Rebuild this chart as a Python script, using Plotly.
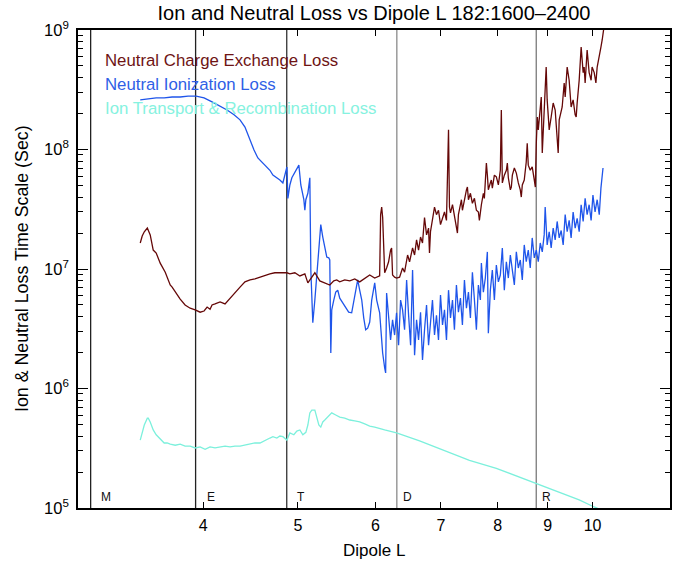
import math
import plotly.graph_objects as go

# ---------------- data ----------------
cx_L = [3.45, 3.466, 3.483, 3.508, 3.532, 3.557, 3.582, 3.599, 3.616, 3.659, 3.676, 3.702, 3.719, 3.746,
        3.79, 3.834, 3.861, 3.88, 3.926, 3.972, 4.009, 4.038, 4.066, 4.085, 4.114, 4.163, 4.212, 4.262,
        4.312, 4.363, 4.414, 4.467, 4.519, 4.573, 4.627, 4.681, 4.736, 4.792, 4.849, 4.872, 4.906, 4.964,
        5.023, 5.082, 5.118, 5.142, 5.178, 5.203, 5.264, 5.326, 5.389, 5.44, 5.478, 5.517, 5.582, 5.649,
        5.715, 5.782, 5.851, 5.92, 5.99, 6.032, 6.06, 6.074, 6.089, 6.103, 6.132, 6.16, 6.189, 6.218,
        6.233, 6.247, 6.277, 6.306, 6.351, 6.396, 6.426, 6.472, 6.502, 6.548, 6.579, 6.61, 6.641, 6.672,
        6.703, 6.735, 6.767, 6.799, 6.814, 6.83, 6.862, 6.895, 6.927, 6.96, 6.993, 7.026, 7.059, 7.092,
        7.126, 7.142, 7.159, 7.193, 7.226, 7.26, 7.277, 7.294, 7.329, 7.346, 7.363, 7.398, 7.433, 7.45,
        7.468, 7.503, 7.538, 7.574, 7.609, 7.645, 7.663, 7.699, 7.735, 7.753, 7.79, 7.808, 7.826, 7.863,
        7.881, 7.9, 7.938, 7.975, 8.013, 8.05, 8.069, 8.088, 8.126, 8.165, 8.184, 8.203, 8.242, 8.261,
        8.281, 8.32, 8.359, 8.398, 8.437, 8.457, 8.477, 8.516, 8.556, 8.576, 8.597, 8.637, 8.677, 8.72,
        8.741, 8.761, 8.782, 8.802, 8.843, 8.864, 8.885, 8.925, 8.967, 8.988, 9.031, 9.073, 9.116, 9.159,
        9.202, 9.224, 9.246, 9.289, 9.311, 9.355, 9.377, 9.421, 9.465, 9.509, 9.554, 9.6, 9.623, 9.645,
        9.691, 9.736, 9.782, 9.805, 9.828, 9.874, 9.921, 9.967, 9.99, 10.04, 10.08, 10.11, 10.16, 10.2,
        10.23, 10.28]
cx_val = [1.65e7, 1.89e7, 2.05e7, 2.2e7, 1.93e7, 1.44e7, 1.36e7, 1.24e7, 1.12e7, 9.4e6, 8.4e6, 7.35e6, 7.05e6, 6.4e6,
          5.6e6, 5.0e6, 4.8e6, 4.7e6, 4.55e6, 4.35e6, 4.45e6, 4.8e6, 4.6e6, 5.0e6, 5.1e6, 5.3e6, 5.1e6, 5.7e6,
          6.4e6, 7.05e6, 7.8e6, 8.1e6, 8.25e6, 8.55e6, 8.75e6, 9.1e6, 9.3e6, 9.3e6, 9.4e6, 9.3e6, 9.1e6, 9.3e6,
          8.75e6, 9.1e6, 7.65e6, 8.1e6, 8.9e6, 9.3e6, 7.95e6, 7.65e6, 7.35e6, 7.95e6, 8.1e6, 7.8e6, 8.1e6, 7.95e6,
          8.25e6, 7.8e6, 8.4e6, 8.9e6, 8.4e6, 8.55e6, 8.75e6, 2.85e7, 3.3e7, 2.7e7, 9.3e6, 1.02e7, 1.15e7, 1.44e7,
          1.5e7, 8.9e6, 8.55e6, 8.4e6, 8.55e6, 1.02e7, 9.4e6, 1.31e7, 1.15e7, 1.5e7, 1.31e7, 1.75e7, 1.44e7, 1.85e7,
          1.65e7, 2.7e7, 1.93e7, 2.2e7, 1.36e7, 2.05e7, 2.55e7, 3.3e7, 2.85e7, 3.1e7, 2.35e7, 2.7e7, 3.0e7, 2.55e7,
          1.46e8, 3.3e7, 2.95e7, 3.45e7, 2.85e7, 2.2e7, 2.0e7, 2.85e7, 3.55e7, 3.8e7, 3.1e7, 3.9e7, 4.6e7, 4.85e7,
          3.8e7, 4.3e7, 3.55e7, 3.9e7, 3.1e7, 3.0e7, 2.55e7, 3.45e7, 4.3e7, 3.9e7, 7.7e7, 6.1e7, 4.6e7, 5.25e7,
          5.55e7, 4.75e7, 6.1e7, 5.9e7, 5.05e7, 6.7e7, 2.14e8, 5.25e7, 6.1e7, 6.7e7, 7.7e7, 5.8e7, 4.6e7, 4.85e7,
          6.1e7, 7.0e7, 6.35e7, 5.25e7, 4.6e7, 4.0e7, 5.05e7, 5.55e7, 7.85e7, 1.13e8, 7.4e7, 6.7e7, 7.15e7, 5.55e7,
          4.85e7, 1.13e8, 1.87e8, 1.46e8, 2.27e8, 2.75e8, 9.35e7, 2.14e8, 4.9e8, 2.6e8, 1.46e8, 1.87e8, 2.45e8, 2.14e8,
          1.2e8, 9.35e7, 1.77e8, 2.14e8, 2.27e8, 3.6e8, 2.75e8, 4.9e8, 3.8e8, 2.27e8, 2.6e8, 1.95e8, 1.87e8, 2.45e8,
          3.8e8, 7.2e8, 4.4e8, 4.9e8, 3.6e8, 6.8e8, 4.4e8, 3.8e8, 4.9e8, 4.4e8, 3.6e8, 4.9e8, 6.4e8, 7.2e8,
          8.25e8, 1.1e9]

ion_L = [3.45, 3.516, 3.582, 3.65, 3.719, 3.79, 3.861, 3.935, 4.009, 4.085, 4.163, 4.232, 4.302, 4.363,
         4.414, 4.467, 4.509, 4.55, 4.594, 4.648, 4.681, 4.714, 4.758, 4.792, 4.826, 4.849, 4.872, 4.883,
         4.906, 4.929, 4.964, 4.987, 5.011, 5.034, 5.046, 5.07, 5.082, 5.094, 5.118, 5.142, 5.154, 5.166,
         5.178, 5.203, 5.227, 5.252, 5.276, 5.301, 5.326, 5.351, 5.376, 5.389, 5.402, 5.414, 5.44, 5.465,
         5.491, 5.517, 5.556, 5.595, 5.634, 5.674, 5.715, 5.755, 5.782, 5.81, 5.837, 5.864, 5.892, 5.92,
         5.948, 5.99, 6.018, 6.06, 6.089, 6.103, 6.132, 6.146, 6.16, 6.189, 6.218, 6.247, 6.277, 6.306,
         6.336, 6.366, 6.396, 6.426, 6.457, 6.487, 6.518, 6.548, 6.579, 6.61, 6.641, 6.672, 6.703, 6.735,
         6.767, 6.799, 6.83, 6.862, 6.895, 6.927, 6.96, 6.993, 7.026, 7.059, 7.092, 7.126, 7.159, 7.193,
         7.226, 7.26, 7.294, 7.329, 7.363, 7.398, 7.433, 7.468, 7.503, 7.538, 7.574, 7.609, 7.645, 7.681,
         7.699, 7.735, 7.771, 7.808, 7.826, 7.863, 7.9, 7.938, 7.975, 8.013, 8.05, 8.088, 8.126, 8.165,
         8.203, 8.242, 8.281, 8.32, 8.359, 8.398, 8.437, 8.477, 8.516, 8.556, 8.597, 8.637, 8.677, 8.72,
         8.761, 8.802, 8.843, 8.885, 8.925, 8.946, 8.988, 9.031, 9.073, 9.116, 9.159, 9.202, 9.246, 9.289,
         9.333, 9.377, 9.421, 9.465, 9.509, 9.554, 9.6, 9.645, 9.691, 9.736, 9.782, 9.828, 9.874, 9.921,
         9.967, 10.01, 10.06, 10.11, 10.16, 10.2, 10.25]
ion_val = [2.6e8, 2.65e8, 2.7e8, 2.7e8, 2.75e8, 2.75e8, 2.8e8, 2.8e8, 2.7e8, 2.5e8, 2.3e8, 2.14e8, 1.95e8, 1.77e8,
           1.54e8, 1.2e8, 9.9e7, 8.5e7, 7.85e7, 7.15e7, 6.7e7, 6.1e7, 5.8e7, 5.55e7, 5.25e7, 6.1e7, 7.15e7, 3.9e7,
           5.05e7, 5.8e7, 6.5e7, 7.0e7, 7.4e7, 5.05e7, 4.6e7, 3.8e7, 3.1e7, 3.8e7, 4.3e7, 5.8e7, 9.8e6, 5.5e6,
           3.55e6, 5.5e6, 9.3e6, 1.59e7, 2.35e7, 1.85e7, 1.5e7, 1.26e7, 1.24e7, 1.19e7, 1.98e6, 4.55e6, 5.5e6, 6.4e6,
           6.65e6, 5.7e6, 5.2e6, 4.7e6, 4.35e6, 4.3e6, 6.05e6, 8.1e6, 6.65e6, 5.5e6, 3.9e6, 3.1e6, 3.2e6, 3.6e6,
           5.5e6, 7.65e6, 5.5e6, 4.3e6, 2.55e6, 1.98e6, 1.49e6, 1.35e6, 6.3e6, 3.75e6, 2.55e6, 3.75e6, 2.8e6, 4.3e6,
           2.3e6, 5.5e6, 4.55e6, 3.1e6, 8.1e6, 4.1e6, 2.3e6, 9.8e6, 1.9e6, 3.75e6, 2.55e6, 4.35e6, 1.73e6, 3.1e6,
           5.0e6, 2.3e6, 3.9e6, 5.5e6, 2.8e6, 4.1e6, 2.55e6, 6.05e6, 3.4e6, 4.55e6, 2.55e6, 6.65e6, 3.9e6, 5.5e6,
           3.1e6, 7.35e6, 4.35e6, 5.7e6, 3.4e6, 8.1e6, 4.7e6, 6.4e6, 3.9e6, 9.4e6, 5.5e6, 3.1e6, 7.35e6, 5.5e6,
           1.12e7, 6.4e6, 8.4e6, 1.39e7, 2.9e6, 6.65e6, 9.8e6, 5.5e6, 1.08e7, 7.8e6, 8.9e6, 1.5e7, 6.65e6, 1.15e7,
           8.4e6, 1.31e7, 9.8e6, 7.35e6, 1.39e7, 1.02e7, 1.19e7, 8.1e6, 1.59e7, 1.15e7, 1.44e7, 1.02e7, 1.82e7, 1.24e7,
           1.44e7, 1.15e7, 1.65e7, 1.39e7, 1.93e7, 3.3e7, 1.59e7, 2.05e7, 1.5e7, 2.2e7, 1.75e7, 2.5e7, 1.82e7, 2.1e7,
           1.59e7, 2.85e7, 2.05e7, 2.55e7, 1.82e7, 3.0e7, 2.2e7, 2.65e7, 2.05e7, 3.45e7, 2.5e7, 3.9e7, 2.85e7, 3.45e7,
           2.55e7, 4.15e7, 3.0e7, 3.8e7, 2.85e7, 4.75e7, 7.0e7]

tr_L = [3.45, 3.466, 3.483, 3.508, 3.516, 3.532, 3.557, 3.582, 3.599, 3.625, 3.65, 3.676, 3.702, 3.746,
        3.79, 3.834, 3.88, 3.926, 3.972, 4.019, 4.066, 4.114, 4.163, 4.212, 4.262, 4.312, 4.363, 4.414,
        4.467, 4.519, 4.573, 4.627, 4.681, 4.714, 4.758, 4.792, 4.826, 4.872, 4.906, 4.952, 4.987, 5.023,
        5.058, 5.094, 5.118, 5.142, 5.166, 5.203, 5.227, 5.252, 5.276, 5.301, 5.326, 5.351, 5.389, 5.414,
        5.465, 5.517, 5.582, 5.649, 5.715, 5.782, 5.851, 5.92, 5.99, 6.06, 6.132, 6.204, 6.306, 6.657,
        7.092, 7.486, 7.975, 8.418, 8.761, 9.246, 9.691, 10.04, 10.16]
tr_val = [3.7e5, 4.3e5, 4.95e5, 5.65e5, 5.65e5, 5.25e5, 4.5e5, 4.1e5, 3.95e5, 3.7e5, 3.5e5, 3.5e5, 3.42e5, 3.35e5,
          3.42e5, 3.3e5, 3.3e5, 3.18e5, 3.25e5, 3.1e5, 3.25e5, 3.18e5, 3.25e5, 3.3e5, 3.25e5, 3.3e5, 3.3e5, 3.35e5,
          3.42e5, 3.5e5, 3.5e5, 3.7e5, 3.85e5, 3.95e5, 3.85e5, 4.0e5, 3.95e5, 3.7e5, 4.25e5, 4.1e5, 4.4e5, 4.5e5,
          4.1e5, 4.3e5, 4.95e5, 6.25e5, 6.6e5, 6.6e5, 5.65e5, 4.95e5, 4.75e5, 5.25e5, 5.45e5, 5.65e5, 6.0e5, 6.25e5,
          6.0e5, 5.77e5, 5.65e5, 5.45e5, 5.35e5, 5.25e5, 5.05e5, 4.85e5, 4.75e5, 4.6e5, 4.5e5, 4.4e5, 4.25e5, 3.64e5,
          2.95e5, 2.5e5, 2.15e5, 1.82e5, 1.62e5, 1.36e5, 1.17e5, 1.02e5, 0.98e5]

moon_names = ["M", "E", "T", "D", "R"]
moon_L = [3.07, 3.93, 4.87, 6.31, 8.76]
moon_colors = ["#222222", "#222222", "#333333", "#8a8a8a", "#7a7a7a"]
moon_label_shift = [8, 9, 8, 4, 4]

legend_names = ["Neutral Charge Exchange Loss", "Neutral Ionization Loss", "Ion Transport & Recombination Loss"]
line_colors = ["#650808", "#1f55ea", "#7cf0dc"]
text_colors = ["#6e1414", "#2f5fe6", "#86f2e0"]

x_ticks = [4, 5, 6, 7, 8, 9, 10]
x_range = [2.98, 12.0]
y_ticks = [1e5, 1e6, 1e7, 1e8, 1e9]
y_ticktext = ["10<sup>5</sup>", "10<sup>6</sup>", "10<sup>7</sup>", "10<sup>8</sup>", "10<sup>9</sup>"]

FONT = "Liberation Sans, Arial, Helvetica, sans-serif"

fig = go.Figure()

# moon vertical lines
for L, c in zip(moon_L, moon_colors):
    fig.add_trace(go.Scatter(x=[L, L], y=[1e5, 1e9], mode="lines",
                             line=dict(color=c, width=1.3), showlegend=False, hoverinfo="skip"))

series = [(tr_L, tr_val), (ion_L, ion_val), (cx_L, cx_val)]
order_colors = [line_colors[2], line_colors[1], line_colors[0]]
for (xs, ys), c in zip(series, order_colors):
    fig.add_trace(go.Scatter(x=xs, y=ys, mode="lines", line=dict(color=c, width=1.3),
                             showlegend=False))

annotations = []
for i, (name, c) in enumerate(zip(legend_names, text_colors)):
    annotations.append(dict(text=name, x=0.043, xref="paper", xanchor="left",
                            y=1 - (31 + 23.5 * i) / 478, yref="paper", yanchor="middle",
                            showarrow=False, font=dict(family=FONT, size=16.8, color=c)))
for name, L, sh in zip(moon_names, moon_L, moon_label_shift):
    annotations.append(dict(text=name, x=math.log10(L), xref="x", xanchor="left", xshift=sh,
                            y=0.004, yref="paper", yanchor="bottom", showarrow=False,
                            font=dict(family=FONT, size=12, color="#111111")))
annotations.append(dict(text="Dipole L", x=0.5, xref="paper", y=-42 / 478, yref="paper",
                        yanchor="middle", showarrow=False, font=dict(family=FONT, size=17, color="black")))
annotations.append(dict(text="Ion & Neutral Loss Time Scale (Sec)", x=-56 / 592, xref="paper",
                        xanchor="center", y=0.5, yref="paper", yanchor="middle", textangle=-90,
                        showarrow=False, font=dict(family=FONT, size=17.8, color="black")))

fig.update_layout(
    width=690, height=568,
    margin=dict(l=78, r=20, t=30, b=60),
    paper_bgcolor="white", plot_bgcolor="white",
    title=dict(text="Ion and Neutral Loss vs Dipole L 182:1600\u20132400", x=0.5 * (78 + 670) / 690,
               xanchor="center", y=1 - 13 / 568, yanchor="middle",
               font=dict(family=FONT, size=20, color="black")),
    annotations=annotations,
    font=dict(family=FONT, color="black"),
)
fig.update_xaxes(type="log", range=[math.log10(x_range[0]), math.log10(x_range[1])], tickvals=x_ticks,
                 ticktext=[str(v) for v in x_ticks], ticks="inside", ticklen=6, tickwidth=1.3,
                 tickcolor="black", showline=True, linecolor="black", linewidth=1.6, mirror="ticks",
                 ticklabelstandoff=2,
                 showgrid=False, zeroline=False, tickfont=dict(family=FONT, size=16, color="black"))
fig.update_yaxes(type="log", range=[5, 9], tickvals=y_ticks, ticktext=y_ticktext,
                 ticks="inside", ticklen=10, tickwidth=1.2, tickcolor="black",
                 minor=dict(ticks="inside", ticklen=5, tickwidth=1, tickcolor="black", dtick="D1", showgrid=False),
                 showline=True, linecolor="black", linewidth=1.6, mirror="ticks",
                 ticklabelstandoff=4,
                 showgrid=False, zeroline=False, tickfont=dict(family=FONT, size=16.5, color="black"))

fig.write_html("out.html")
